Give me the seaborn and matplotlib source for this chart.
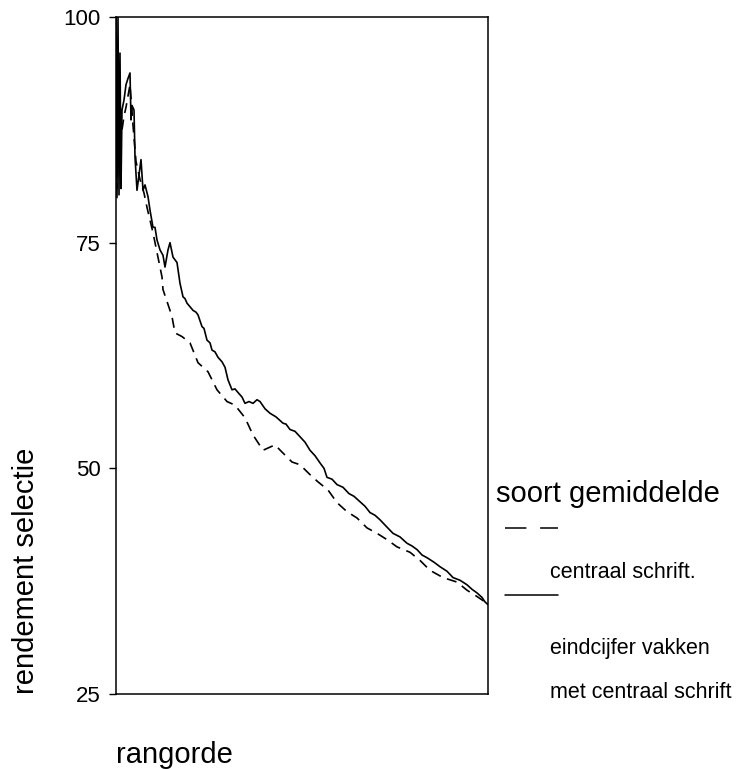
import numpy as np
import pandas as pd
import matplotlib
matplotlib.use('Agg')
import matplotlib.pyplot as plt
from matplotlib.lines import Line2D
import seaborn as sns

# rangorde (positie) en rendement
rang_cs = [0, 1, 2, 3, 4, 5, 6, 8, 10, 12, 14, 15, 16, 18, 19, 21, 23, 25, 27, 29, 32, 34,
           37, 39, 41, 44, 47, 49, 52, 54, 57, 61, 64, 67, 69, 71, 74, 77, 80, 82, 86, 88,
           91, 94, 96, 99, 102, 106, 109, 112, 116, 119, 122, 126, 129, 133, 137, 141, 144,
           149, 154, 160, 167, 170, 174, 179, 184, 189, 194, 199, 204, 208, 211, 216, 221,
           227, 233, 238, 244, 249, 254, 259, 264, 270, 277, 284, 291, 296, 301, 306, 311,
           318, 324, 331, 337, 344, 351, 356, 361, 366, 369, 372]
rend_cs = [100, 80.0, 100, 80.3, 96.0, 81.0, 89.7, 90.8, 92.5, 93.2, 93.8, 88.6, 90.2,
           89.7, 84.5, 80.8, 82.5, 84.2, 80.8, 81.4, 80.1, 78.6, 76.7, 76.7, 75.3, 74.2,
           73.6, 72.3, 74.2, 75.0, 73.4, 72.8, 70.5, 69.0, 68.8, 68.3, 67.9, 67.5, 67.3,
           67.0, 65.7, 65.5, 64.2, 63.9, 63.1, 62.9, 62.3, 61.8, 61.2, 59.8, 58.7, 58.8,
           58.4, 57.9, 57.2, 57.4, 57.2, 57.6, 57.4, 56.6, 56.1, 55.7, 55.0, 54.9, 54.3,
           54.1, 53.5, 52.9, 52.0, 51.4, 50.6, 50.0, 49.0, 48.8, 48.2, 47.9, 47.2, 46.9,
           46.3, 45.8, 45.1, 44.8, 44.3, 43.6, 42.8, 42.4, 41.7, 41.4, 41.0, 40.4, 40.1,
           39.6, 39.1, 38.6, 37.9, 37.6, 37.1, 36.6, 36.2, 35.7, 35.2, 34.9]

rang_cs_only = [0, 1, 2, 4, 6, 8, 10, 14, 17, 20, 24, 28, 31, 37, 46, 47, 54, 56, 59, 66,
                74, 82, 92, 101, 111, 119, 129, 137, 147, 159, 166, 176, 184, 194, 202,
                212, 221, 231, 241, 251, 261, 271, 281, 294, 304, 314, 327, 341, 351, 361,
                369, 372]
rend_cs_only = [100, 81.0, 95.0, 87.8, 87.5, 89.0, 90.0, 92.5, 88.0, 84.0, 82.0, 80.5,
                78.9, 76.1, 71.2, 69.8, 67.5, 66.8, 65.0, 64.6, 63.9, 61.7, 60.7, 58.7,
                57.4, 57.0, 55.6, 53.7, 52.0, 52.6, 51.8, 50.7, 50.4, 49.3, 48.5, 47.6,
                46.2, 45.2, 44.5, 43.4, 42.8, 42.1, 41.3, 40.7, 39.8, 38.7, 37.9, 37.4,
                36.5, 35.8, 35.2, 34.9]

W, H = 752, 769
sns.set_style('ticks')
plt.rcParams['font.family'] = ['Liberation Sans', 'DejaVu Sans']
plt.rcParams['text.color'] = 'black'
plt.rcParams['axes.labelcolor'] = 'black'
plt.rcParams['ytick.color'] = 'black'

fig = plt.figure(figsize=(W / 100, H / 100), dpi=100)
ax = fig.add_axes([116 / W, 1 - 694 / H, (488 - 116) / W, (694 - 17) / H])

# gestreept: centraal schrift, doorgetrokken: eindcijfer met centraal schrift
sns.lineplot(x=rang_cs_only, y=rend_cs_only, color='black', lw=1.2,
             linestyle=(0, (6, 4)), ax=ax)
sns.lineplot(x=rang_cs, y=rend_cs, color='black', lw=1.2, ax=ax)

ax.set_xlim(0, 372)
ax.set_ylim(25, 100)
ax.set_yticks([25, 50, 75, 100])
ax.set_xticks([])
ax.tick_params(axis='y', length=5, width=1, pad=6, labelsize=16, direction='out',
               colors='black')
for s in ax.spines.values():
    s.set_linewidth(1.1)
    s.set_color('black')

ax.set_xlabel('rangorde', fontsize=21, loc='left', labelpad=34)
ax.set_ylabel('rendement selectie', fontsize=21, loc='bottom', labelpad=17)

# legenda naast de grafiek
def px(x, y):
    return x / W, 1 - y / H

fig.text(*px(496, 502), 'soort gemiddelde', fontsize=21, va='baseline')
fig.add_artist(Line2D([505 / W, 558 / W], [1 - 528 / H] * 2, color='black', lw=1.1,
                      linestyle=(0, (14, 9))))
fig.text(*px(550, 578), 'centraal schrift.', fontsize=15.5, va='baseline')
fig.add_artist(Line2D([505 / W, 558 / W], [1 - 595 / H] * 2, color='black', lw=1.1))
fig.text(*px(550, 654), 'eindcijfer vakken', fontsize=15.5, va='baseline')
fig.text(*px(550, 698), 'met centraal schrift', fontsize=15.5, va='baseline')

fig.savefig('out.png', dpi=100)
